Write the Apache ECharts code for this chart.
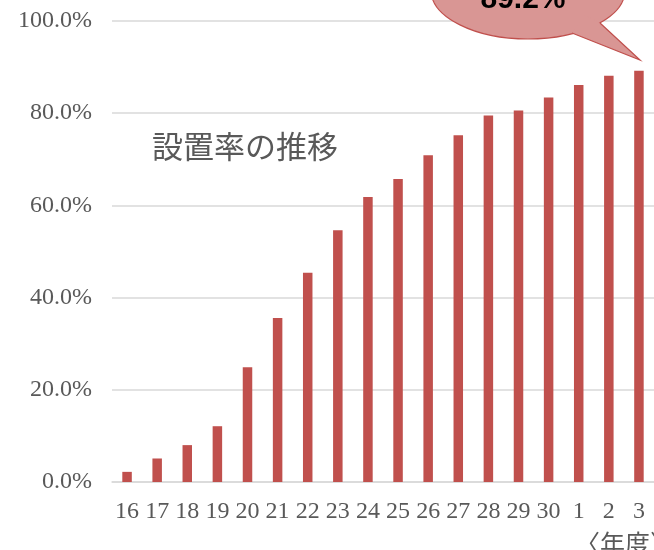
<!DOCTYPE html>
<html>
<head>
<meta charset="utf-8">
<script src="https://cdn.jsdelivr.net/npm/echarts@6/dist/echarts.min.js"></script>
<style>html,body{margin:0;padding:0;background:#fff;}#c{width:654px;height:550px;}</style>
</head>
<body>
<div id="c"></div>
<script>
const categories = ['16','17','18','19','20','21','22','23','24','25','26','27','28','29','30','1','2','3'];
const rates = [2.2, 5.1, 8.0, 12.1, 24.9, 35.6, 45.4, 54.6, 61.8, 65.7, 70.9, 75.2, 79.5, 80.6, 83.4, 86.1, 88.1, 89.2];
const yTicks = [0, 20, 40, 60, 80, 100];
const titleText = '設置率の推移';
const unitText = '〈年度〉';

const chart = echarts.init(document.getElementById('c'), null, {renderer: 'canvas'});
const labelFont = '"Liberation Serif", "DejaVu Serif", serif';
const lastText = rates[rates.length - 1].toFixed(1) + '%';

chart.setOption({
  animation: false,
  backgroundColor: '#ffffff',
  grid: {left: 112, top: 21, width: 553, height: 461, containLabel: false},
  xAxis: {
    type: 'category',
    data: categories,
    axisLine: {show: true, lineStyle: {color: '#D9D9D9', width: 1.5}},
    axisTick: {show: false},
    axisLabel: {color: '#595959', fontFamily: labelFont, fontSize: 24, margin: 18, interval: 0}
  },
  yAxis: {
    type: 'value',
    min: yTicks[0],
    max: yTicks[yTicks.length - 1],
    interval: 20,
    axisLine: {show: false},
    axisTick: {show: false},
    splitLine: {lineStyle: {color: '#D9D9D9', width: 1.5}},
    axisLabel: {
      color: '#595959', fontFamily: labelFont, fontSize: 24, margin: 20,
      formatter: v => v.toFixed(1) + '%'
    }
  },
  series: [{
    type: 'bar',
    data: rates,
    barWidth: 9.5,
    itemStyle: {color: '#C0504D'}
  }],
  graphic: [
    {type: 'text', left: 152, top: 131, style: {text: titleText, fill: '#595959', fontSize: 31, fontFamily: '"Noto Sans CJK JP", sans-serif'}},
    {type: 'text', x: 575, y: 543, style: {text: unitText, fill: '#595959', fontSize: 25, fontFamily: '"Noto Sans CJK JP", sans-serif', verticalAlign: 'middle', align: 'left'}},
    {type: 'ellipse', shape: {cx: 528, cy: -10, rx: 97, ry: 49}, style: {fill: '#D99694', stroke: '#C0504D', lineWidth: 1.2}, z: 10},
    {type: 'polygon', shape: {points: [[600, 23], [640, 60], [572, 33], [585, 15]]}, style: {fill: '#D99694', stroke: null}, z: 11},
    {type: 'polyline', shape: {points: [[600, 23], [640, 60], [572, 33]]}, style: {fill: null, stroke: '#C0504D', lineWidth: 1.2}, z: 12},
    {type: 'text', x: 523, y: 0, style: {text: lastText, fill: '#000000', fontSize: 30, fontWeight: 'bold', fontFamily: '"Liberation Sans", Arial, sans-serif', align: 'center', verticalAlign: 'middle'}, z: 13}
  ]
});
</script>
</body>
</html>
